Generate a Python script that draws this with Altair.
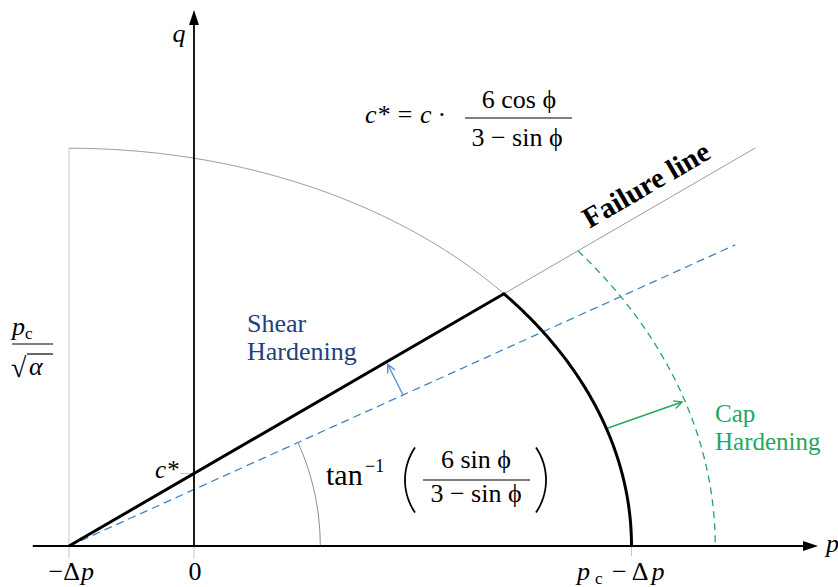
import math
import numpy as np
import pandas as pd
import altair as alt

# ---- model parameters (diagram units) ----
DELTA_P = 1.0          # tensile shift of the apex
PC = 4.5               # current cap size p_c
ALPHA = 2.0            # cap aspect parameter
PC_HARD = 5.17         # hardened cap size
ALPHA_HARD = 1.82
M_FAIL = 0.58          # slope of the failure line
M_INIT = 0.452         # slope of the initial shear yield line
P_FAIL_END = 4.49
P_INIT_END = 4.33
ARC_R = 2.01           # radius of the angle marker

# ---- frame ----
X_DOMAIN = [-1.552, 5.152]
Y_DOMAIN = [-0.328, 4.368]
P_AXIS = [-1.29, 4.9, 4.992]   # start, shaft end, arrow tip
Q_AXIS = [0.0, 4.17, 4.288]

FONT = "'Liberation Serif', 'Times New Roman', 'DejaVu Serif', serif"
NAVY = "#22407c"
GREEN = "#22a85c"
BLUE = "#3c86c8"
ARROW_BLUE = "#5a8ed2"

XS = alt.Scale(domain=X_DOMAIN, nice=False, zero=False)
YS = alt.Scale(domain=Y_DOMAIN, nice=False, zero=False)


def xy(px="p", qy="q"):
    return dict(x=alt.X(f"{px}:Q", scale=XS, axis=None),
                y=alt.Y(f"{qy}:Q", scale=YS, axis=None))


def rules(p0, q0, p1, q1, **kw):
    df = pd.DataFrame({"p0": p0, "q0": q0, "p1": p1, "q1": q1})
    return alt.Chart(df).mark_rule(**kw).encode(
        **xy("p0", "q0"), x2="p1:Q", y2="q1:Q")


def curve(p, q, **kw):
    df = pd.DataFrame({"p": p, "q": q, "i": np.arange(len(p))})
    return alt.Chart(df).mark_line(**kw).encode(**xy(), order="i:Q")


def cap(pc, alpha, t0, t1, n=160):
    th = np.linspace(t0, t1, n)
    return -DELTA_P + pc * np.cos(th), pc / math.sqrt(alpha) * np.sin(th)


def cap_meet(pc, alpha, m):
    b = pc / math.sqrt(alpha)
    return math.atan(m * pc / b)


layers = []

# light guides: apex vertical and small ticks
b0 = PC / math.sqrt(ALPHA)
layers.append(rules([-DELTA_P, 0.0, PC - DELTA_P, -0.11],
                    [-0.1, -0.1, -0.08, 0.58],
                    [-DELTA_P, 0.0, PC - DELTA_P, 0.0],
                    [b0, 0.0, 0.0, 0.58],
                    color="#c8c8c8", strokeWidth=1))

# full yield ellipse (thin grey, upper part)
th_int = cap_meet(PC, ALPHA, M_FAIL)
ep, eq = cap(PC, ALPHA, math.pi / 2, th_int)
layers.append(curve(ep, eq, color="#9a9a9a", strokeWidth=1))

# failure line (thin grey)
layers.append(rules([-DELTA_P], [0.0], [P_FAIL_END], [M_FAIL * (P_FAIL_END + DELTA_P)],
                    color="#9a9a9a", strokeWidth=1))

# angle marker
ta = np.linspace(0, math.atan(M_INIT), 40)
layers.append(curve(-DELTA_P + ARC_R * np.cos(ta), ARC_R * np.sin(ta),
                    color="#8a8a8a", strokeWidth=1))

# initial shear yield line (blue dashed)
layers.append(rules([-DELTA_P], [0.0], [P_INIT_END], [M_INIT * (P_INIT_END + DELTA_P)],
                    color=BLUE, strokeWidth=1.3, strokeDash=[8, 5]))

# hardened cap (green dashed)
th_h = cap_meet(PC_HARD, ALPHA_HARD, M_FAIL)
gp, gq = cap(PC_HARD, ALPHA_HARD, th_h, 0.0)
layers.append(curve(gp, gq, color=GREEN, strokeWidth=1.3, strokeDash=[7, 5]))

# axes
layers.append(rules([P_AXIS[0], 0.0], [0.0, Q_AXIS[0]], [P_AXIS[1], 0.0], [0.0, Q_AXIS[1]],
                    color="black", strokeWidth=1.8))
head = "M0,0L-0.33,1L0.33,1Z"
for (hp, hq, ang) in [(P_AXIS[2], 0.0, 90), (0.0, Q_AXIS[2], 0)]:
    layers.append(alt.Chart(pd.DataFrame({"p": [hp], "q": [hq]})).mark_point(
        shape=head, size=900, filled=True, color="black", opacity=1,
        angle=ang).encode(**xy()))

# current yield surface (thick black): shear line + cap
cp, cq = cap(PC, ALPHA, th_int, 0.0)
yp = np.concatenate([[-DELTA_P], cp])
yq = np.concatenate([[0.0], cq])
layers.append(curve(yp, yq, color="black", strokeWidth=3, strokeJoin="miter"))

# hardening arrows
ARROWS = {
    "shear": ([1.672, 1.208], [1.55, 1.452], ARROW_BLUE),
    "cap": ([3.312, 0.944], [3.904, 1.152], GREEN),
}
chev = "M-0.5,1L0,0L0.5,1"
for name, (tail, tip, col) in ARROWS.items():
    layers.append(rules([tail[0]], [tail[1]], [tip[0]], [tip[1]], color=col, strokeWidth=1.4))
    ang = math.degrees(math.atan2(tip[0] - tail[0], tip[1] - tail[1])) % 360
    layers.append(alt.Chart(pd.DataFrame({"p": [tip[0]], "q": [tip[1]]})).mark_point(
        shape=chev, size=256, filled=False, color=col, strokeWidth=1.4, opacity=1,
        angle=ang).encode(**xy()))

# fraction bars and radical overbar
layers.append(rules([2.168, -1.456, -1.336, 1.832],
                    [3.424, 1.616, 1.536, 0.528],
                    [3.024, -1.128, -1.128, 2.688],
                    [3.424, 1.616, 1.536, 0.528],
                    color="black", strokeWidth=1.2))

# big parentheses around the tan^-1 argument
PAREN_R = 0.462
PAREN_HALF = math.asin(0.26 / PAREN_R)
tp = np.linspace(-PAREN_HALF, PAREN_HALF, 40)
for side, edge in [(-1, 1.688), (1, 2.816)]:
    cx = edge - side * PAREN_R
    layers.append(curve(cx + side * PAREN_R * np.cos(tp), 0.528 + PAREN_R * np.sin(tp),
                        color="black", strokeWidth=1.8))

# ---- labels ----
lab_text = ["q", "p", "c* = c ·", "6 cos ϕ", "3 − sin ϕ",
            "Shear", "Hardening", "Cap", "Hardening", "c*",
            "−Δ", "p", "0", "p", "c", "− Δ", "p",
            "p", "c", "√", "α",
            "tan", "−1", "6 sin ϕ", "3 − sin ϕ"]
lab_p = [-0.12, 5.056, 1.368, 2.6, 2.584,
         0.424, 0.424, 4.168, 4.168, -0.312,
         -0.912, -0.904, 0.008, 3.064, 3.208, 3.344, 3.66,
         -1.456, -1.352, -1.464, -1.32,
         1.056, 1.368, 2.256, 2.256]
lab_q = [4.032, -0.048, 3.384, 3.504, 3.2,
         1.712, 1.488, 0.992, 0.768, 0.544,
         -0.272, -0.272, -0.272, -0.272, -0.3, -0.272, -0.272,
         1.688, 1.656, 1.352, 1.368,
         0.488, 0.592, 0.624, 0.352]
lab_size = [26, 26, 26, 26, 26,
            26, 26, 25, 25, 25,
            26, 26, 26, 26, 17, 26, 26,
            26, 17, 28, 26,
            30, 18, 26, 26]
lab_color = ["black"] * 5 + [NAVY, NAVY, GREEN, GREEN] + ["black"] * 16
lab_style = ["italic", "italic", "italic", "normal", "normal",
             "normal", "normal", "normal", "normal", "italic",
             "normal", "italic", "normal", "italic", "normal", "normal", "italic",
             "italic", "normal", "normal", "italic",
             "normal", "normal", "normal", "normal"]
lab_align = ["center", "left", "left", "center", "center",
             "left", "left", "left", "left", "left",
             "right", "left", "center", "left", "left", "left", "left",
             "left", "left", "left", "left",
             "left", "left", "center", "center"]

labels = pd.DataFrame({"t": lab_text, "p": lab_p, "q": lab_q, "s": lab_size,
                       "c": lab_color, "st": lab_style, "al": lab_align})
for (st, al), grp in labels.groupby(["st", "al"]):
    layers.append(alt.Chart(grp.drop(columns=["st", "al"])).mark_text(
        font=FONT, fontStyle=st, align=al, baseline="alphabetic").encode(
        **xy(), text=alt.Text("t:N"),
        size=alt.Size("s:Q", scale=None),
        color=alt.Color("c:N", scale=None)))

# rotated failure line label
fail_angle = 360 - math.degrees(math.atan(M_FAIL))
layers.append(alt.Chart(pd.DataFrame({"p": [3.656], "q": [2.824], "t": ["Failure line"]})).mark_text(
    font=FONT, fontWeight="bold", fontSize=29, align="center", baseline="alphabetic",
    angle=fail_angle, color="black").encode(**xy(), text=alt.Text("t:N")))

chart = alt.layer(*layers).properties(
    width=838, height=587,
    autosize=alt.AutoSizeParams(type="none"),
    padding=0,
    background="white",
).configure_view(stroke=None)

chart.save("out.html", embed_options={"renderer": "svg", "actions": False})
